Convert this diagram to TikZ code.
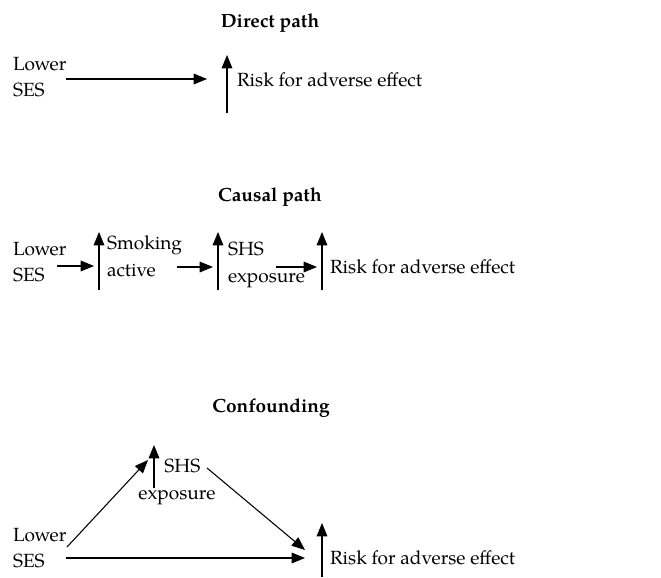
\documentclass[tikz,border=0pt]{standalone}
\usepackage{fontspec}
\setmainfont{TeX Gyre Pagella}
\usetikzlibrary{arrows.meta}
\begin{document}
\begin{tikzpicture}[x=0.75pt,y=-0.75pt,
  lbl/.style={inner sep=0pt,outer sep=0pt,font=\fontsize{14.3}{20}\selectfont,align=left},
  ttl/.style={inner sep=0pt,font=\fontsize{14.3}{20}\selectfont\bfseries},
  arr/.style={line width=0.8pt,-{Triangle[length=10pt,width=8pt]}}]
\useasboundingbox (0,0) rectangle (661,578);
% Direct path
\node[ttl] (t1) at (270,23) {Direct path};
\node[lbl,anchor=west] (ses1) at (13,77) {Lower\\SES};
\node[lbl,anchor=west] (risk1) at (237,80) {Risk for adverse effect};
\coordinate (a1s) at (66,79);
\coordinate (a1e) at (207,79);
\draw[arr] (a1s) -- (a1e);
\coordinate (v1b) at (227,113);
\coordinate (v1t) at (227,55);
\draw[arr] (v1b) -- (v1t);
% Causal path
\node[ttl] (t2) at (270,197) {Causal path};
\node[lbl,anchor=west] (ses2) at (13,262) {Lower\\SES};
\node[lbl,anchor=west] (smk) at (107,256) {Smoking\\active};
\node[lbl,anchor=west] (shs2) at (228,265) {SHS\\exposure};
\node[lbl,anchor=west] (risk2) at (330,267) {Risk for adverse effect};
\coordinate (c1s) at (57,266); \coordinate (c1e) at (94,266);
\coordinate (c2s) at (177,267); \coordinate (c2e) at (213,267);
\coordinate (c3s) at (276,267); \coordinate (c3e) at (317,267);
\draw[arr] (c1s) -- (c1e);
\draw[arr] (c2s) -- (c2e);
\draw[arr] (c3s) -- (c3e);
\foreach \x/\n in {99/u1,218/u2,322/u3}{
  \coordinate (\n b) at (\x,290); \coordinate (\n t) at (\x,232);
  \draw[arr] (\n b) -- (\n t);
}
% Confounding
\node[ttl] (t3) at (271,408) {Confounding};
\node[lbl,anchor=west] (ses3) at (13,548) {Lower\\SES};
\node[lbl,align=center] (shs3) at (177,482) {\hspace*{8pt}SHS\\exposure};
\node[lbl,anchor=west] (risk3) at (330,558) {Risk for adverse effect};
\coordinate (d1s) at (67,547); \coordinate (d1e) at (148,460);
\coordinate (d2s) at (207,468); \coordinate (d2e) at (305,550);
\coordinate (d3s) at (66,558); \coordinate (d3e) at (305,558);
\draw[arr] (d1s) -- (d1e);
\draw[arr] (d2s) -- (d2e);
\draw[arr] (d3s) -- (d3e);
\coordinate (w1b) at (154,488); \coordinate (w1t) at (154,445);
\draw[arr] (w1b) -- (w1t);
\coordinate (w2b) at (322,577); \coordinate (w2t) at (322,523);
\draw[arr] (w2b) -- (w2t);
\end{tikzpicture}
\end{document}
